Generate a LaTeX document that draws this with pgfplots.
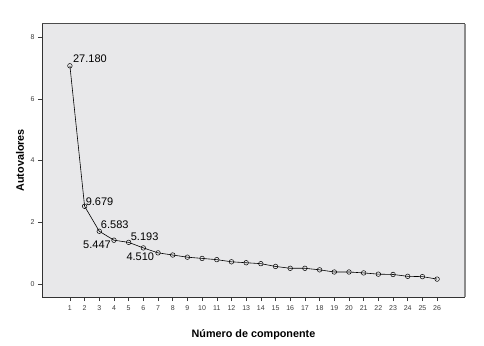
\documentclass[border=0pt]{standalone}
\usepackage{pgfplots}
\pgfplotsset{compat=1.18}
\usepackage{fontspec}
\setmainfont{Liberation Sans}
\definecolor{bg}{RGB}{232,232,234}
\definecolor{tickc}{RGB}{60,60,60}
\begin{document}
\begin{tikzpicture}[x=1pt,y=1pt]
\path (0,0) rectangle (484,345);
\begin{axis}[
  at={(42pt,48pt)}, anchor=south west,
  scale only axis, width=423pt, height=273.5pt,
  xmin=-0.9, xmax=27.9, ymin=-0.42, ymax=8.44,
  axis background/.style={fill=bg},
  axis line style={draw=none},
  xtick={1,...,26}, ytick={0,2,4,6,8},
  xtick pos=bottom, ytick pos=left,
  tick align=outside,
  major tick length=4pt,
  tick style={color=tickc, line width=0.5pt},
  /pgf/number format/assume math mode=true,
  tick label style={font=\fontsize{7}{8}\selectfont, color=tickc},
  xticklabel style={yshift=-1pt},
  xlabel={\bfseries Número de componente},
  ylabel={\bfseries Autovalores},
  label style={font=\fontsize{10.8}{12}\selectfont},
  xlabel style={at={(axis description cs:0.5,0)}, anchor=center, yshift=-38pt},
  ylabel style={at={(axis description cs:0,0.5)}, anchor=center, rotate=0, yshift=22pt},
  clip=false,
]
\addplot[black, line width=0.6pt, mark=o, mark size=2.3pt,
  mark options={solid, line width=0.5pt, fill=none}] coordinates {
(1,7.07) (2,2.52) (3,1.71) (4,1.42) (5,1.35) (6,1.17) (7,1.01) (8,0.94)
(9,0.87) (10,0.83) (11,0.79) (12,0.72) (13,0.69) (14,0.66) (15,0.57)
(16,0.51) (17,0.51) (18,0.46) (19,0.39) (20,0.39) (21,0.36) (22,0.32)
(23,0.31) (24,0.25) (25,0.24) (26,0.16)
};
\draw[color=black!80, line width=0.8pt] (rel axis cs:0,1) -- (rel axis cs:0,0) -- (rel axis cs:1,0);
\draw[color=black!70, line width=0.8pt] (rel axis cs:0,1) -- (rel axis cs:1,1);
\draw[color=black!45, line width=1.4pt] (rel axis cs:1,0) -- (rel axis cs:1,1);
\begin{scope}[every node/.style={font=\fontsize{11}{12}\selectfont, inner sep=0pt}]
\node[anchor=base west, xshift=3pt, yshift=3pt] at (axis cs:1,7.07) {27.180};
\node[anchor=base west, xshift=1pt, yshift=1pt] at (axis cs:2,2.52) {9.679};
\node[anchor=base west, xshift=1.5pt, yshift=2.5pt] at (axis cs:3,1.71) {6.583};
\node[anchor=base east, xshift=-3pt, yshift=-8.5pt] at (axis cs:4,1.42) {5.447};
\node[anchor=base west, xshift=2pt, yshift=2.3pt] at (axis cs:5,1.35) {5.193};
\node[anchor=base west, xshift=-17pt, yshift=-13pt] at (axis cs:6,1.17) {4.510};
\end{scope}
\end{axis}
\end{tikzpicture}
\end{document}
